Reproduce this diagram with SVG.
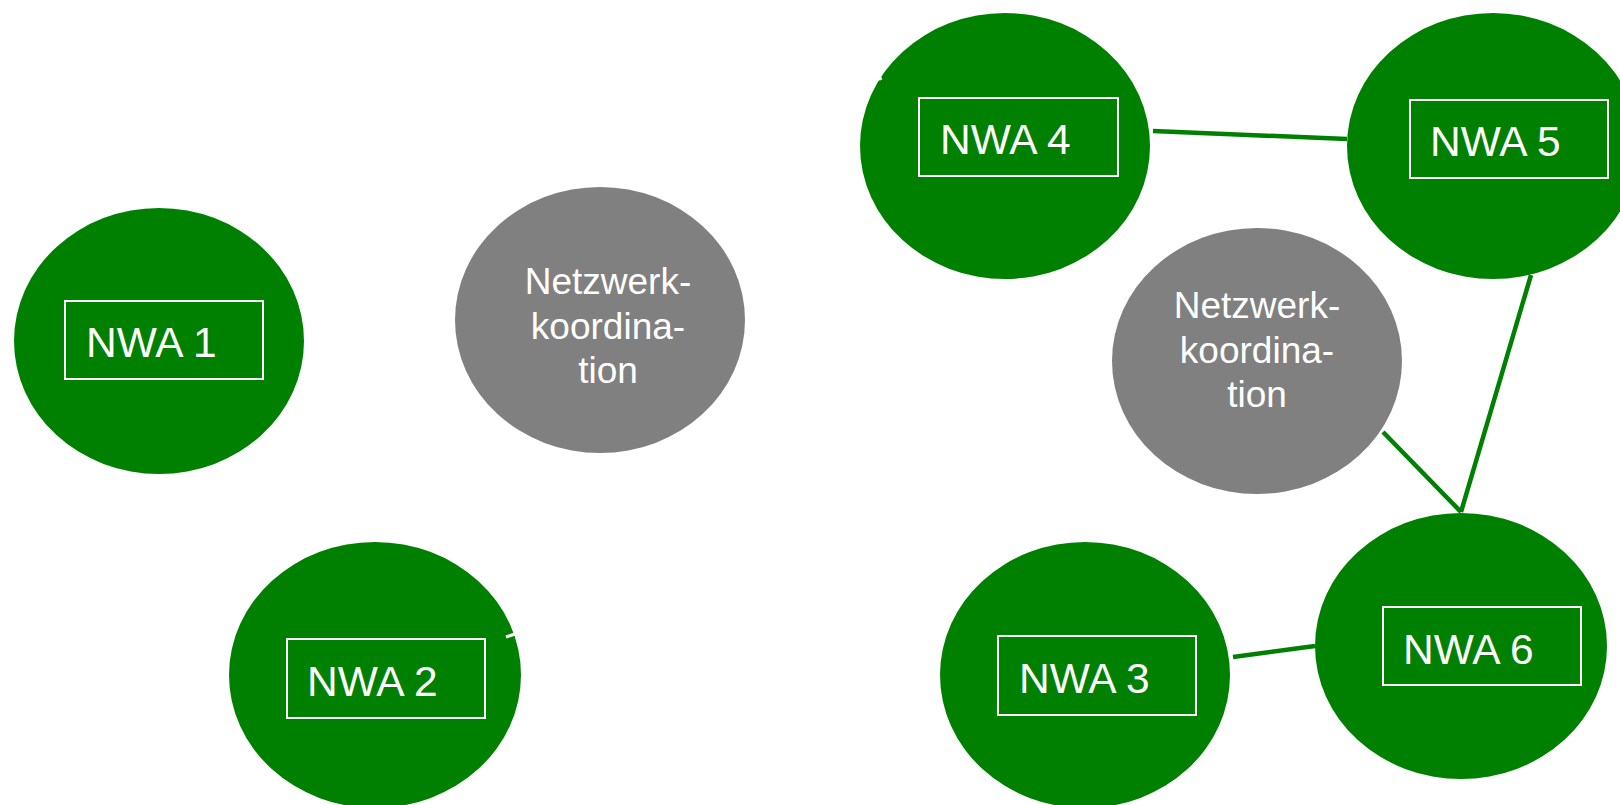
<svg xmlns="http://www.w3.org/2000/svg" width="1620" height="805" viewBox="0 0 1620 805">
<style>
.nwa{fill:#008000}
.nk{fill:#808080}
.box{fill:none;stroke:#ffffff;stroke-width:2}
.lbl{font-family:"Liberation Sans",Arial,sans-serif;font-size:42.5px;fill:#ffffff}
.nkt{font-family:"Liberation Sans",Arial,sans-serif;font-size:37px;fill:#ffffff;text-anchor:middle}
.con{stroke:#008000;stroke-width:4.5;fill:none}
.wt{stroke:#ffffff;stroke-width:3;fill:none}
</style>
<rect width="1620" height="805" fill="#ffffff"/>
<g id="nwa1">
<ellipse class="nwa" cx="159" cy="341" rx="145" ry="133"/>
<rect class="box" x="65" y="301" width="198" height="78"/>
<text class="lbl" x="86" y="357">NWA 1</text>
</g>
<g id="nwa2">
<ellipse class="nwa" cx="375" cy="675" rx="146" ry="133"/>
<rect class="box" x="287" y="639" width="198" height="79"/>
<text class="lbl" x="307" y="696">NWA 2</text>
</g>
<g id="netzwerk1">
<ellipse class="nk" cx="600" cy="320" rx="145" ry="133"/>
<text class="nkt" x="608" y="294">Netzwerk-</text>
<text class="nkt" x="608" y="339">koordina-</text>
<text class="nkt" x="608" y="383">tion</text>
</g>
<g id="nwa4">
<ellipse class="nwa" cx="1005" cy="146" rx="145" ry="133"/>
<rect class="box" x="919" y="98" width="199" height="78"/>
<text class="lbl" x="940" y="154">NWA 4</text>
</g>
<g id="nwa5">
<ellipse class="nwa" cx="1493" cy="146" rx="146" ry="133"/>
<rect class="box" x="1410" y="100" width="198" height="78"/>
<text class="lbl" x="1430" y="156">NWA 5</text>
</g>
<g id="netzwerk2">
<ellipse class="nk" cx="1257" cy="361" rx="145" ry="133"/>
<text class="nkt" x="1257" y="318">Netzwerk-</text>
<text class="nkt" x="1257" y="363">koordina-</text>
<text class="nkt" x="1257" y="407">tion</text>
</g>
<g id="nwa3">
<ellipse class="nwa" cx="1085" cy="675" rx="145" ry="133"/>
<rect class="box" x="998" y="636" width="198" height="79"/>
<text class="lbl" x="1019" y="693">NWA 3</text>
</g>
<g id="nwa6">
<ellipse class="nwa" cx="1461" cy="646" rx="146" ry="133"/>
<rect class="box" x="1383" y="607" width="198" height="78"/>
<text class="lbl" x="1403" y="664">NWA 6</text>
</g>
<g id="connectors">
<line class="con" x1="1153" y1="131" x2="1347" y2="139"/>
<line class="con" x1="1531" y1="275" x2="1461" y2="512"/>
<line class="con" x1="1383" y1="432" x2="1461" y2="512"/>
<line class="con" x1="1233" y1="657" x2="1315" y2="646"/>
<line class="wt" x1="506" y1="637" x2="515" y2="634"/>
<line class="wt" x1="879" y1="76" x2="881" y2="80"/>
</g>
</svg>
